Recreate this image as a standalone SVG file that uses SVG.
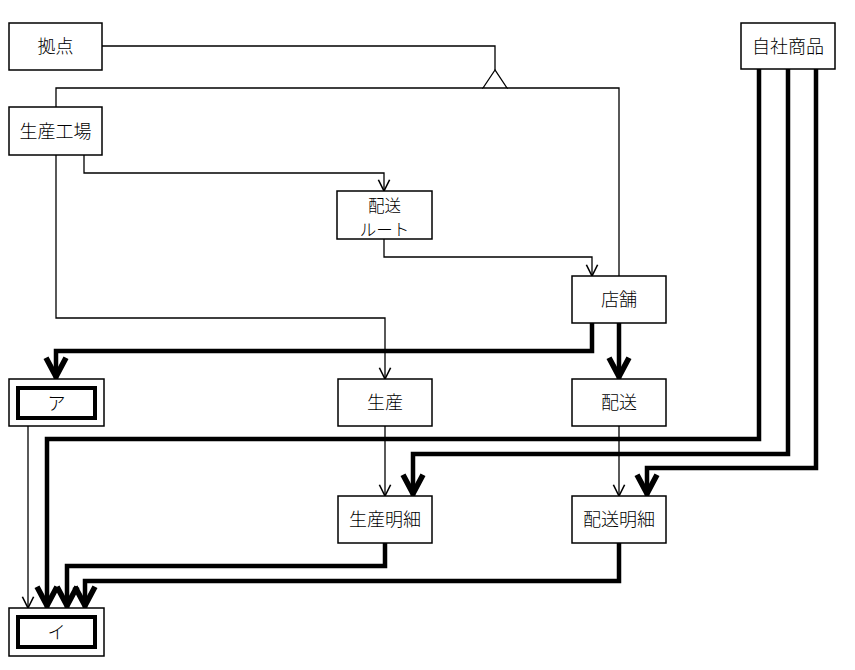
<svg xmlns="http://www.w3.org/2000/svg" width="855" height="670" viewBox="0 0 855 670">
<style>
.box{fill:#fff;stroke:#000;stroke-width:1.5}
.inner{fill:#fff;stroke:#000;stroke-width:4}
.t{font-family:"Noto Sans CJK JP","Noto Sans CJK SC",sans-serif;font-size:18px;font-weight:300;fill:#000;text-anchor:middle}
.s{font-size:16.5px}
.thin{fill:none;stroke:#000;stroke-width:1.3}
.thick{fill:none;stroke:#000;stroke-width:4.5}
</style>
<defs>
<marker id="a" markerUnits="userSpaceOnUse" orient="auto" markerWidth="20" markerHeight="20" refX="0" refY="0" viewBox="-12 -8 14 16" overflow="visible">
<path d="M-9,-4.5 L0,0 L-9,4.5" fill="none" stroke="#000" stroke-width="1.3"/>
</marker>
<marker id="b" markerUnits="userSpaceOnUse" orient="auto" markerWidth="30" markerHeight="30" refX="2" refY="0" viewBox="-20 -12 24 24" overflow="visible">
<path d="M-15,-8 L0,0 L-15,8" fill="none" stroke="#000" stroke-width="4.5"/>
</marker>
</defs>
<g id="connectors">
<path class="thin" d="M102,46 H495 V70"/>
<polygon points="495,70 483,88 507,88" fill="#fff" stroke="#000" stroke-width="1.3"/>
<path class="thin" d="M56,107 V88 H483 M507,88 H619 V276"/>
<path class="thin" d="M84,155 V173 H384 V191" marker-end="url(#a)"/>
<path class="thin" d="M56,155 V318 H385 V379" marker-end="url(#a)"/>
<path class="thin" d="M384,239 V257 H592 V276" marker-end="url(#a)"/>
<path class="thin" d="M385,426 V496" marker-end="url(#a)"/>
<path class="thin" d="M619,426 V496" marker-end="url(#a)"/>
<path class="thin" d="M28,426 V608" marker-end="url(#a)"/>
<path class="thick" d="M592,323 V351 H56 V379" marker-end="url(#b)"/>
<path class="thick" d="M619,323 V379" marker-end="url(#b)"/>
<path class="thick" d="M759,69 V439 H47 V608" marker-end="url(#b)"/>
<path class="thick" d="M788,69 V454 H413 V496" marker-end="url(#b)"/>
<path class="thick" d="M816,69 V468 H647 V496" marker-end="url(#b)"/>
<path class="thick" d="M385,543 V566 H67 V608" marker-end="url(#b)"/>
<path class="thick" d="M619,543 V581 H85 V608" marker-end="url(#b)"/>
</g>
<g id="kyoten"><rect class="box" x="9" y="23" width="93" height="47"/><text class="t" x="55.5" y="53">拠点</text></g>
<g id="seisankojo"><rect class="box" x="9" y="107" width="93" height="48"/><text class="t" x="55.5" y="137.5">生産工場</text></g>
<g id="jishashohin"><rect class="box" x="741" y="23" width="94" height="46"/><text class="t" x="788" y="52.5">自社商品</text></g>
<g id="haisoroute"><rect class="box" x="337" y="191" width="95" height="48"/><text class="t s" x="384.5" y="212">配送</text><text class="t s" x="384.5" y="236">ルート</text></g>
<g id="tenpo"><rect class="box" x="572" y="276" width="94" height="47"/><text class="t" x="619" y="306">店舗</text></g>
<g id="a-node"><rect class="box" x="9" y="379" width="95" height="47"/><rect class="inner" x="18" y="388" width="77" height="30"/><text class="t" x="56.5" y="409.5">ア</text></g>
<g id="seisan"><rect class="box" x="338" y="379" width="94" height="47"/><text class="t" x="385" y="409">生産</text></g>
<g id="haiso"><rect class="box" x="572" y="379" width="94" height="47"/><text class="t" x="619" y="409">配送</text></g>
<g id="seisanmeisai"><rect class="box" x="338" y="496" width="94" height="47"/><text class="t" x="385" y="526">生産明細</text></g>
<g id="haisomeisai"><rect class="box" x="572" y="496" width="94" height="47"/><text class="t" x="619" y="526">配送明細</text></g>
<g id="i-node"><rect class="box" x="9" y="608" width="95" height="48"/><rect class="inner" x="18" y="617" width="77" height="30"/><text class="t" x="56.5" y="638.5">イ</text></g>
</svg>
